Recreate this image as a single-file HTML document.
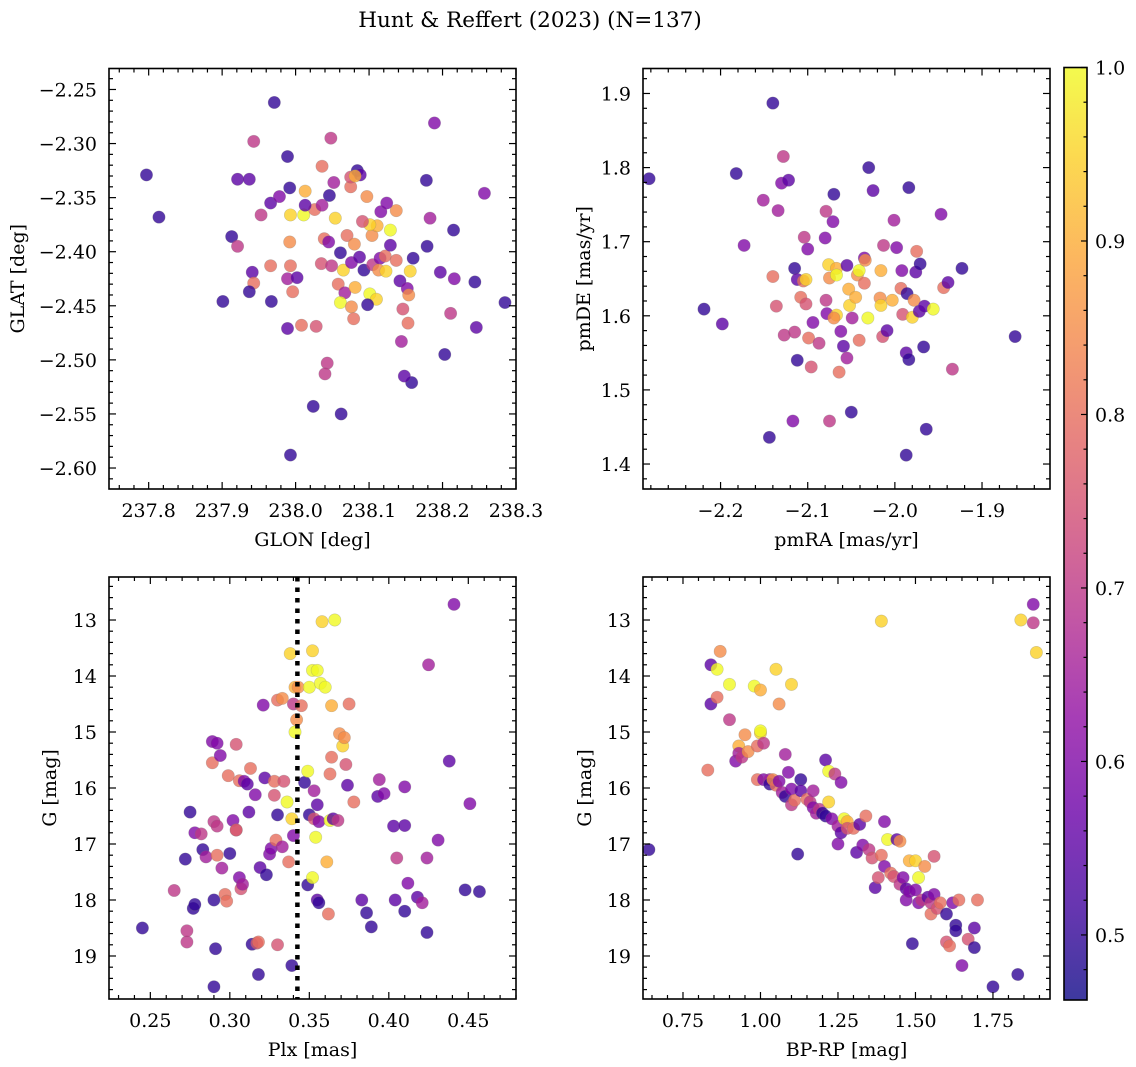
<!DOCTYPE html>
<html><head><meta charset="utf-8"><style>
html,body{margin:0;padding:0;background:#fff;}
svg{display:block;font-family:"DejaVu Serif","Liberation Serif",serif;}
</style></head><body>
<svg id="fig" width="1136" height="1067" viewBox="0 0 1136 1067" xmlns="http://www.w3.org/2000/svg">
<text x="530" y="27" font-size="21.5" text-anchor="middle">Hunt &amp; Reffert (2023) (N=137)</text>
</svg>
<script>
// Panel 1: GLON / GLAT
const glon=[237.797,237.814,237.913,237.921,237.901,237.921,237.937,237.943,237.971,237.989,237.992,237.953,237.966,237.978,237.941,237.943,237.937,237.966,237.993,237.989,238.002,237.996,237.967,237.989,238.008,238.028,237.992,237.993,238.011,238.013,238.026,238.036,238.013,238.046,238.036,238.048,238.052,238.054,238.039,238.045,238.035,238.049,238.061,238.070,238.080,238.065,238.076,238.087,238.093,238.105,238.115,238.104,238.058,238.067,238.061,238.076,238.079,238.081,238.101,238.110,238.113,238.123,238.122,238.129,238.137,238.111,238.101,238.091,238.129,238.116,238.137,238.124,238.097,238.075,238.075,238.084,238.088,238.081,238.160,238.156,238.142,238.152,238.154,238.146,238.153,238.144,238.098,238.043,238.040,238.024,238.062,237.993,238.178,238.189,238.183,238.179,238.197,238.215,238.216,238.203,238.211,238.244,238.246,238.257,238.285,238.158,238.148];
const glat=[-2.329,-2.368,-2.386,-2.395,-2.446,-2.333,-2.333,-2.298,-2.262,-2.312,-2.341,-2.366,-2.355,-2.349,-2.419,-2.429,-2.437,-2.413,-2.413,-2.425,-2.424,-2.437,-2.446,-2.471,-2.468,-2.469,-2.391,-2.366,-2.366,-2.344,-2.361,-2.357,-2.357,-2.348,-2.321,-2.295,-2.336,-2.369,-2.388,-2.391,-2.411,-2.413,-2.401,-2.385,-2.393,-2.417,-2.410,-2.405,-2.417,-2.412,-2.406,-2.385,-2.430,-2.438,-2.447,-2.451,-2.462,-2.433,-2.439,-2.444,-2.417,-2.418,-2.404,-2.394,-2.408,-2.376,-2.375,-2.372,-2.380,-2.363,-2.362,-2.355,-2.349,-2.340,-2.331,-2.325,-2.329,-2.330,-2.406,-2.418,-2.427,-2.434,-2.440,-2.453,-2.466,-2.483,-2.449,-2.503,-2.513,-2.543,-2.550,-2.588,-2.334,-2.281,-2.369,-2.395,-2.419,-2.380,-2.425,-2.495,-2.457,-2.428,-2.470,-2.346,-2.447,-2.521,-2.515];
const prob1=[.5,.5,.5,.7,.5,.55,.55,.7,.5,.5,.5,.7,.55,.6,.55,.8,.5,.8,.8,.65,.55,.8,.5,.55,.8,.75,.85,.95,1.0,.9,.8,.65,.55,.5,.8,.7,.65,.95,.8,.6,.75,.7,.5,.8,.85,.95,.6,.55,.5,.7,.6,.85,.8,.65,1.0,.85,.8,.9,1.0,.95,.85,.95,.8,.55,.8,.9,.95,.75,1.0,.6,.85,.6,.85,.8,.75,.5,.55,.9,.5,.95,.55,.6,.85,.75,.8,.65,.5,.7,.7,.5,.5,.5,.5,.6,.65,.5,.55,.5,.6,.5,.7,.5,.55,.6,.5,.5,.55];

// Panel 2: pmRA / pmDE
const pmra=[-2.282,-2.219,-2.182,-2.173,-2.198,-2.151,-2.140,-2.128,-2.130,-2.122,-2.134,-2.140,-2.136,-2.144,-2.127,-2.115,-2.112,-2.115,-2.112,-2.104,-2.100,-2.105,-2.108,-2.102,-2.102,-2.099,-2.117,-2.096,-2.094,-2.087,-2.075,-2.076,-2.079,-2.078,-2.070,-2.071,-2.079,-2.080,-2.067,-2.067,-2.067,-2.070,-2.064,-2.075,-2.062,-2.059,-2.055,-2.055,-2.053,-2.052,-2.045,-2.049,-2.043,-2.041,-2.035,-2.035,-2.041,-2.050,-2.030,-2.025,-2.034,-2.031,-2.017,-2.016,-2.016,-2.014,-2.013,-2.009,-2.003,-2.001,-1.998,-1.993,-1.992,-1.986,-1.991,-1.987,-1.980,-1.984,-1.976,-1.978,-1.972,-1.971,-1.975,-1.984,-1.987,-1.966,-1.947,-1.956,-1.944,-1.967,-1.964,-1.939,-1.934,-1.923,-1.862];
const pmde=[1.785,1.609,1.792,1.695,1.589,1.756,1.887,1.815,1.779,1.783,1.742,1.653,1.613,1.436,1.574,1.664,1.649,1.578,1.540,1.706,1.690,1.647,1.625,1.616,1.649,1.570,1.458,1.531,1.591,1.563,1.651,1.669,1.621,1.603,1.764,1.727,1.741,1.705,1.664,1.655,1.601,1.597,1.524,1.458,1.579,1.559,1.543,1.668,1.636,1.614,1.625,1.597,1.655,1.661,1.644,1.678,1.567,1.470,1.800,1.769,1.675,1.597,1.624,1.661,1.614,1.572,1.695,1.580,1.621,1.729,1.692,1.637,1.661,1.630,1.602,1.550,1.598,1.773,1.659,1.621,1.606,1.670,1.687,1.541,1.412,1.613,1.737,1.609,1.638,1.558,1.447,1.645,1.528,1.664,1.572];
const prob2=[.5,.5,.5,.6,.55,.65,.5,.7,.6,.55,.65,.8,.75,.5,.7,.5,.55,.7,.5,.7,.6,.8,.8,.75,.95,.8,.6,.75,.6,.7,.85,.95,.7,.6,.5,.6,.7,.6,.9,1.0,.95,.85,.8,.7,.6,.55,.65,.55,.9,.95,.9,.65,.85,1.0,.8,.6,.8,.5,.5,.55,.85,1.0,.85,.9,.95,.75,.7,.55,.9,.65,.6,.8,.6,.5,.75,.55,.95,.5,.55,.85,.55,.5,.8,.5,.5,.55,.6,1.0,.8,.5,.5,.55,.7,.5,.5];

// Panel 3: Plx / G
const plx=[0.245,0.265,0.272,0.273,0.273,0.275,0.277,0.278,0.278,0.282,0.283,0.285,0.289,0.289,0.290,0.290,0.291,0.290,0.292,0.292,0.292,0.294,0.295,0.297,0.298,0.299,0.300,0.302,0.304,0.304,0.304,0.306,0.306,0.307,0.308,0.309,0.311,0.312,0.313,0.314,0.316,0.317,0.318,0.318,0.319,0.321,0.322,0.323,0.325,0.326,0.328,0.328,0.329,0.330,0.330,0.330,0.333,0.333,0.334,0.336,0.337,0.338,0.339,0.339,0.340,0.340,0.341,0.341,0.342,0.343,0.345,0.347,0.349,0.349,0.350,0.350,0.352,0.352,0.352,0.353,0.353,0.354,0.355,0.355,0.355,0.356,0.356,0.357,0.358,0.360,0.361,0.362,0.363,0.363,0.364,0.364,0.365,0.366,0.368,0.369,0.371,0.372,0.373,0.374,0.375,0.378,0.383,0.386,0.389,0.393,0.394,0.397,0.403,0.404,0.405,0.410,0.410,0.410,0.412,0.418,0.421,0.424,0.425,0.424,0.431,0.438,0.441,0.448,0.451,0.457];
const gmag3=[18.5,17.83,17.27,18.75,18.55,16.43,18.15,18.08,16.8,16.82,17.1,17.23,15.17,15.55,18.0,16.6,18.87,19.55,16.68,17.2,15.2,15.42,17.43,17.9,18.02,15.78,17.17,16.58,16.75,16.75,15.22,15.87,17.6,17.8,17.72,15.88,15.93,16.43,15.65,18.79,16.12,18.77,18.75,19.33,17.42,14.52,15.82,17.55,17.18,17.08,16.13,15.88,16.93,18.8,16.48,14.43,14.4,17.05,15.88,16.25,17.32,13.6,19.17,16.55,14.5,16.85,14.2,15.0,14.78,14.2,14.53,15.9,17.73,15.7,16.48,14.2,17.6,13.55,13.9,16.55,16.05,16.88,18.0,16.3,13.9,18.05,16.6,14.13,13.03,14.2,17.32,18.25,16.58,15.75,15.45,14.53,16.55,13.0,16.58,15.03,15.25,15.1,15.58,15.95,14.5,16.25,18.0,18.23,18.48,16.15,15.85,16.1,16.68,18.0,17.25,18.2,15.98,16.67,17.7,17.95,18.05,18.58,13.8,17.25,16.93,15.52,12.72,17.82,16.28,17.85];
const prob3=[.5,.7,.5,.7,.7,.5,.5,.5,.6,.7,.5,.65,.6,.8,.5,.7,.5,.5,.7,.8,.6,.6,.65,.8,.8,.8,.5,.6,.8,.75,.75,.8,.6,.75,.65,.6,.55,.55,.8,.5,.6,.75,.8,.5,.55,.6,.55,.5,.6,.6,.75,.8,.8,.75,.5,.8,.85,.65,.75,1.0,.8,.95,.5,.95,.7,.6,.9,1.0,.85,.85,.8,.5,.5,1.0,.5,1.0,1.0,.95,1.0,.75,.65,1.0,.55,.55,1.0,.5,.6,1.0,.95,1.0,.9,.8,1.0,.8,.8,.9,.55,1.0,.7,.85,.95,.85,.75,.55,.8,.8,.55,.5,.5,.55,.65,.6,.55,.55,.7,.5,.6,.55,.6,.55,.65,.5,.65,.65,.6,.55,.6,.5,.6,.5];
const plxLine=[0.3425];

// Panel 4: BP-RP / G
const bprp=[0.64,0.83,0.84,0.84,0.86,0.86,0.87,0.90,0.90,0.92,0.93,0.93,0.94,0.95,0.96,0.98,0.99,0.99,1.00,1.00,1.00,1.01,1.01,1.03,1.03,1.04,1.05,1.05,1.06,1.06,1.07,1.08,1.08,1.09,1.10,1.10,1.10,1.11,1.12,1.13,1.13,1.15,1.16,1.17,1.17,1.18,1.19,1.20,1.21,1.21,1.22,1.22,1.23,1.24,1.25,1.25,1.26,1.26,1.27,1.28,1.28,1.30,1.31,1.32,1.33,1.34,1.35,1.36,1.37,1.38,1.39,1.39,1.40,1.40,1.41,1.42,1.43,1.44,1.45,1.45,1.46,1.47,1.47,1.48,1.48,1.49,1.50,1.50,1.51,1.51,1.52,1.53,1.54,1.55,1.55,1.56,1.56,1.57,1.58,1.60,1.60,1.61,1.62,1.63,1.63,1.64,1.65,1.67,1.69,1.69,1.70,1.75,1.83,1.84,1.88,1.88,1.89];
const gmag4=[17.1,15.68,13.8,14.5,13.88,14.38,13.56,14.15,14.78,15.52,15.25,15.38,15.45,15.05,15.35,14.18,15.25,15.85,15.02,14.98,14.25,15.2,15.85,15.85,15.93,15.85,13.88,15.95,14.5,15.88,16.08,15.4,16.15,15.72,14.15,16.3,16.02,16.22,17.18,15.85,16.05,16.2,16.25,16.05,16.35,16.45,16.38,16.45,15.5,16.5,15.7,16.25,16.55,15.75,16.68,17.0,15.9,16.8,16.55,16.6,16.72,16.72,17.15,16.65,17.02,16.5,17.1,17.25,17.78,17.6,13.02,17.2,16.6,17.4,16.92,17.52,17.58,16.92,16.95,17.72,17.6,17.8,18.0,17.3,17.85,18.78,17.82,17.3,17.6,18.05,18.0,17.4,17.95,18.25,18.05,17.22,17.9,18.15,18.05,18.75,18.25,18.82,18.05,18.45,18.55,18.0,19.17,18.7,18.85,18.5,18.0,19.55,19.33,13.0,13.05,12.72,13.58];
const prob4=[.5,.8,.55,.55,1.0,.8,.85,1.0,.7,.6,.9,.65,.7,.85,.85,1.0,.8,.8,.95,1.0,.9,.7,.6,.65,.5,.85,.95,.8,.85,.6,.65,.65,.5,.6,.95,.7,.6,.8,.5,.5,.55,.8,.7,.65,.6,.65,.7,.5,.55,.5,1.0,.95,.6,.7,.65,.6,.6,.55,1.0,.9,.75,.8,.55,.55,.6,.8,.7,.75,.55,.75,.95,.8,.6,.6,1.0,.8,.75,.55,.85,.7,.6,.55,.6,.9,.6,.5,.6,.95,1.0,.6,.7,.85,.55,.8,.7,.75,.6,.75,.8,.75,.5,.8,.6,.5,.5,.8,.6,.75,.5,.55,.8,.5,.5,.95,.7,.6,.95];

// Colorbar ticks
const cbTicks=[0.5,0.6,0.7,0.8,0.9,1.0];
const vmin=0.4625, vmax=1.0;

const FS=19;
const NS="http://www.w3.org/2000/svg";
const svg=document.getElementById('fig');
function mk(tag,attrs,parent){const e=document.createElementNS(NS,tag);for(const k in attrs)e.setAttribute(k,attrs[k]);(parent||svg).appendChild(e);return e;}
const stops=[[0,'#0d0887'],[.1,'#41049d'],[.2,'#6a00a8'],[.3,'#8f0da4'],[.4,'#b12a90'],[.5,'#cc4778'],[.6,'#e16462'],[.7,'#f2844b'],[.8,'#fca636'],[.9,'#fcce25'],[1,'#f0f921']];
function hex(h){return [parseInt(h.substr(1,2),16),parseInt(h.substr(3,2),16),parseInt(h.substr(5,2),16)];}
function plasma(t){t=Math.max(0,Math.min(1,t));for(let i=1;i<stops.length;i++){if(t<=stops[i][0]){const a=stops[i-1],b=stops[i];const f=(t-a[0])/(b[0]-a[0]);const ca=hex(a[1]),cb=hex(b[1]);return 'rgb('+ca.map((v,j)=>Math.round(v+(cb[j]-v)*f)).join(',')+')';}}return stops[stops.length-1][1];}
function fmt(v,d){const s=Math.abs(v).toFixed(d);return (v<-1e-9?'\u2212':'')+s;}

function panel(o){
  const g=mk('g',{});
  
  
  const sx=v=>o.x0+(v-o.xd[0])/(o.xd[1]-o.xd[0])*(o.x1-o.x0);
  const sy=v=>o.inv? o.y0+(v-o.yd[0])/(o.yd[1]-o.yd[0])*(o.y1-o.y0) : o.y1-(v-o.yd[0])/(o.yd[1]-o.yd[0])*(o.y1-o.y0);
  for(let i=0;i<o.xs.length;i++){
    const c=mk('circle',{cx:sx(o.xs[i]),cy:sy(o.ys[i]),r:6.2,fill:plasma((o.ps[i]-vmin)/(vmax-vmin)),'fill-opacity':0.8,stroke:'#777','stroke-opacity':0.35,'stroke-width':0.6},g);
    
    
  }
  if(o.vline){o.vline.forEach(v=>{const l=mk('line',{x1:sx(v),x2:sx(v),y1:o.y0,y2:o.y1,stroke:'#000','stroke-width':4.5,'stroke-dasharray':'4.5,6'},g);
    
    });}
  const fr=mk('rect',{x:o.x0,y:o.y0,width:o.x1-o.x0,height:o.y1-o.y0,fill:'none',stroke:'#000','stroke-width':1.6},g);
  
  
  const eps=1e-6;
  for(let k=Math.ceil(o.xd[0]/o.xmin-eps);k*o.xmin<=o.xd[1]+eps;k++){
    const v=k*o.xmin;const X=sx(v);
    const major=Math.abs(v/o.xmaj-Math.round(v/o.xmaj))<1e-4;
    const L=major?7:4;
    mk('line',{x1:X,x2:X,y1:o.y1,y2:o.y1-L,stroke:'#000','stroke-width':1.2},g);
    mk('line',{x1:X,x2:X,y1:o.y0,y2:o.y0+L,stroke:'#000','stroke-width':1.2},g);
    if(major){const t=mk('text',{x:X,y:o.y1+28,'font-size':FS,'text-anchor':'middle'},g);t.textContent=fmt(v,o.xdec);
      
      }
  }
  for(let k=Math.ceil(o.yd[0]/o.ymin-eps);k*o.ymin<=o.yd[1]+eps;k++){
    const v=k*o.ymin;const Y=sy(v);
    const major=Math.abs(v/o.ymaj-Math.round(v/o.ymaj))<1e-4;
    const L=major?7:4;
    mk('line',{x1:o.x0,x2:o.x0+L,y1:Y,y2:Y,stroke:'#000','stroke-width':1.2},g);
    mk('line',{x1:o.x1,x2:o.x1-L,y1:Y,y2:Y,stroke:'#000','stroke-width':1.2},g);
    if(major){const t=mk('text',{x:o.x0-12,y:Y+7,'font-size':FS,'text-anchor':'end'},g);t.textContent=fmt(v,o.ydec);
      
      }
  }
  const xl=mk('text',{x:(o.x0+o.x1)/2,y:o.y1+57,'font-size':FS,'text-anchor':'middle'},g);xl.textContent=o.xlabel;
  
  
  const yx=o.ylx, yy=(o.y0+o.y1)/2;
  const yl=mk('text',{x:yx,y:yy,'font-size':FS,'text-anchor':'middle',transform:'rotate(-90 '+yx+' '+yy+')'},g);yl.textContent=o.ylabel;
  
  
}

panel({name:'glon-glat-panel',x0:109,x1:516,y0:68.5,y1:489,xd:[237.746,238.3],yd:[-2.6194,-2.2306],xs:glon,ys:glat,ps:prob1,xmaj:0.1,xmin:0.02,ymaj:0.05,ymin:0.01,xdec:1,ydec:2,xlabel:'GLON [deg]',ylabel:'GLAT [deg]',ylx:24});
panel({name:'proper-motion-panel',x0:643,x1:1050,y0:68.5,y1:489,xd:[-2.289,-1.822],yd:[1.3663,1.9337],xs:pmra,ys:pmde,ps:prob2,xmaj:0.1,xmin:0.02,ymaj:0.1,ymin:0.02,xdec:1,ydec:1,xlabel:'pmRA [mas/yr]',ylabel:'pmDE [mas/yr]',ylx:590});
panel({name:'plx-g-panel',x0:109,x1:516,y0:577,y1:999,xd:[0.224,0.480],yd:[12.232,19.768],inv:true,xs:plx,ys:gmag3,ps:prob3,xmaj:0.05,xmin:0.01,ymaj:1,ymin:0.2,xdec:2,ydec:0,xlabel:'Plx [mas]',ylabel:'G [mag]',ylx:56,vline:plxLine});
panel({name:'cmd-panel',x0:643,x1:1050,y0:577,y1:999,xd:[0.621,1.934],yd:[12.232,19.768],inv:true,xs:bprp,ys:gmag4,ps:prob4,xmaj:0.25,xmin:0.05,ymaj:1,ymin:0.2,xdec:2,ydec:0,xlabel:'BP-RP [mag]',ylabel:'G [mag]',ylx:591});

(function(){
  const x0=1064,x1=1087,y0=67.5,y1=1000;
  const g=mk('g',{});
  
  
  const defs=mk('defs',{},g);
  const lg=mk('linearGradient',{id:'cbg',x1:0,y1:1,x2:0,y2:0},defs);
  for(let i=0;i<=20;i++){mk('stop',{offset:i/20,'stop-color':plasma(i/20),'stop-opacity':0.8},lg);}
  mk('rect',{x:x0,y:y0,width:x1-x0,height:y1-y0,fill:'url(#cbg)',stroke:'#000','stroke-width':1.6},g);
  const sy=v=>y1-(v-vmin)/(vmax-vmin)*(y1-y0);
  for(let k=Math.ceil(vmin/0.02-1e-6);k*0.02<=vmax+1e-6;k++){
    const v=k*0.02,Y=sy(v);const major=Math.abs(v*10-Math.round(v*10))<1e-4;
    mk('line',{x1:x1,x2:x1-(major?6:3.5),y1:Y,y2:Y,stroke:'#000','stroke-width':1.2},g);
  }
  cbTicks.forEach(v=>{const t=mk('text',{x:x1+8,y:sy(v)+7,'font-size':FS},g);t.textContent=v.toFixed(1);
    
    });
})();
</script>
</body></html>
